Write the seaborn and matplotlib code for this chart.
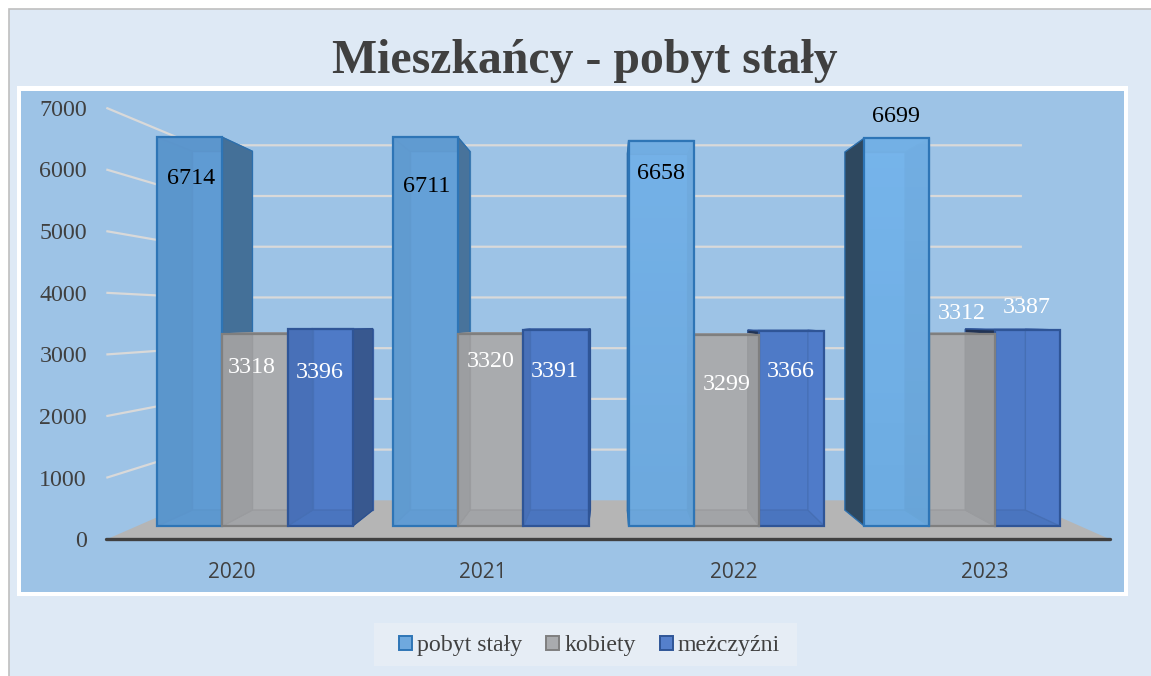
import numpy as np
import pandas as pd
import seaborn as sns
import matplotlib.pyplot as plt
from matplotlib.colors import LinearSegmentedColormap, to_rgb
from matplotlib.patches import Patch, Polygon, Rectangle

years = ['2020', '2021', '2022', '2023']
series = ['pobyt stały', 'kobiety', 'meżczyźni']
pobyt_staly = [6714, 6711, 6658, 6699]
kobiety = [3318, 3320, 3299, 3312]
mezczyzni = [3396, 3391, 3366, 3387]
y_ticks = [0, 1000, 2000, 3000, 4000, 5000, 6000, 7000]

W, H = 1151, 676
XV, YV = 1.515, 3575      # vanishing point, data units
S_NEAR, S_BACK, S_WALL = 1.065, 0.923, 0.876      # depth of the planes

face = ['#5F9BD3', '#A9ABAE', '#4E7AC7']
edge = ['#2E75B6', '#7F7F7F', '#2F5597']
inner_right = [0.84, 0.86, 1.02]
# top and bottom colour of the front of the pobyt stały bars
light_grad = [('#5F9BD3', '#5F9BD3'), ('#64A0D7', '#64A0D7'),
              ('#84C3FB', '#6DA9DE'), ('#88C6FD', '#6DACE2')]
# label offset from bar top, pixels
label_off = [[(1, -41), (1, -49), (0, -33), (-1, 22)],
             [(-3, -34), (0, -28), (0, -50), (0, 21)],
             [(0, -43), (-1, -42), (-1, -40), (-1, 22)]]
label_col = ['black', 'white', 'white']


def project(x, y, s):
    return XV + (x - XV) * s, YV + (y - YV) * s


def shade(c, f):
    return tuple(min(v * f, 1) for v in to_rgb(c))


sns.set_theme(style='white')
plt.rcParams['font.family'] = ['Liberation Serif', 'DejaVu Sans']

df = pd.DataFrame({
    'rok': years * 3,
    'seria': np.repeat(series, 4),
    'mieszkancy': pobyt_staly + kobiety + mezczyzni,
})

fig = plt.figure(figsize=(W / 100, H / 100), dpi=100, facecolor='white')
fig.add_artist(Rectangle((8.5 / W, -0.05), 1, 1.05 - 9.5 / H, transform=fig.transFigure,
                         fc='#DEE9F5', ec='#BFBFBF', lw=1.2))
fig.add_artist(Rectangle((17 / W, 1 - 596 / H), 1111 / W, 510 / H,
                         transform=fig.transFigure, fc='white', ec='none'))
fig.add_artist(Rectangle((374 / W, 1 - 666 / H), 423 / W, 43 / H,
                         transform=fig.transFigure, fc='#E6EDF5', ec='none'))
ax = fig.add_axes([21 / W, 1 - 592 / H, 1103 / W, 501 / H], facecolor='#9DC3E6')
ax.set_zorder(2)

sns.barplot(data=df, x='rok', y='mieszkancy', hue='seria', hue_order=series,
            palette=face, width=0.83, gap=0, saturation=1, legend=False, ax=ax)

# gridlines: near edge, side wall, back wall
for t in y_ticks[1:]:
    pts = [project(-0.5, t, S_NEAR), project(-0.5, t, S_WALL), project(3.5, t, S_WALL)]
    ax.plot(*zip(*pts), color='#D9D9D9', lw=1.6, zorder=1, solid_capstyle='butt')

floor = [project(-0.5, 0, S_NEAR), project(3.5, 0, S_NEAR),
         project(3.5, 0, S_WALL), project(-0.5, 0, S_WALL)]
ax.add_patch(Polygon(floor, fc='#B5B5B5', ec='none', zorder=1.5))
ax.plot(*zip(*floor[:2]), color='#404040', lw=2.4, zorder=1.6, solid_capstyle='round')

# boxes are drawn from the outside towards the vanishing point
bars = []
for h, cont in enumerate(ax.containers):
    for i, bar in enumerate(cont):
        bars.append((h, i, bar))
bars.sort(key=lambda b: -abs(b[2].get_x() + b[2].get_width() / 2 - XV))

for n, (h, i, bar) in enumerate(bars):
    z = 2 + n
    x0, x1, top = bar.get_x(), bar.get_x() + bar.get_width(), bar.get_height()
    c, ec = face[h], edge[h]
    if h == 0:
        c = light_grad[i][1]

    def quad(a, b, fc, line):
        # face between two front corners and their far copies
        pts = [a, b, project(*b, S_BACK), project(*a, S_BACK)]
        ax.add_patch(Polygon(pts, fc=fc, ec=line, lw=0.9, zorder=z))

    bl, br = project(x0, 0, S_BACK), project(x1, top, S_BACK)
    ax.add_patch(Rectangle(bl, br[0] - bl[0], br[1] - bl[1], fc=c, ec=shade(c, 0.88),
                           lw=0.9, zorder=z))
    outer_right = (x0 + x1) / 2 < XV
    soft = shade(c, 0.85)
    # top first, the dark outer side has to end up over its corner
    quad((x0, top), (x1, top), shade(c, 0.9), soft)
    quad((x0, 0), (x1, 0), shade(c, 0.94), soft)
    if outer_right:
        quad((x0, 0), (x0, top), shade(c, 0.88), soft)
        quad((x1, 0), (x1, top), shade(c, 0.72), shade(ec, 0.95))
    else:
        quad((x1, 0), (x1, top), shade(c, inner_right[h]), soft)
        quad((x0, 0), (x0, top), shade(c, 0.42), shade(ec, 0.95))

    # front, see-through so that the inner edges stay visible
    bar.set_zorder(z + 0.5)
    bar.set_facecolor((*to_rgb(c), 0.4))
    bar.set_edgecolor(ec)
    bar.set_linewidth(1.6)
    if h == 0:
        cmap = LinearSegmentedColormap.from_list('g', [light_grad[i][1], light_grad[i][0]])
        ax.imshow(np.linspace(0, 1, 64).reshape(-1, 1), cmap=cmap, origin='lower', alpha=0.6,
                  extent=(x0, x1, 0, top), aspect='auto', zorder=z + 0.4)

for h, cont in enumerate(ax.containers):
    for i, bar in enumerate(cont):
        ax.annotate(f'{bar.get_height():.0f}',
                    (bar.get_x() + bar.get_width() / 2, bar.get_height()),
                    xytext=label_off[h][i], textcoords='offset pixels',
                    ha='center', va='center', fontsize=17.3, color=label_col[h], zorder=50)

ax.set_xlim(-0.993, 3.687)
ax.set_ylim(-1140, 7513)
ax.set_xlabel('')
ax.set_ylabel('')
sns.despine(ax=ax, left=True, bottom=True)
ax.set_yticks([project(0, t, S_NEAR)[1] for t in y_ticks], labels=[str(t) for t in y_ticks])
ax.set_xticks([project(i, 0, S_NEAR)[0] for i in range(4)], labels=years)
ax.tick_params(axis='y', length=0, pad=-47.5, labelsize=17.3, labelcolor='#404040')
ax.tick_params(axis='x', length=0, pad=-21.5, labelsize=15, labelcolor='#404040')
for lab in ax.get_xticklabels():
    lab.set_fontfamily('Open Sans')

fig.text(585 / W, 1 - 61 / H, 'Mieszkańcy - pobyt stały', ha='center', va='center',
         fontsize=34.4, fontweight='bold', color='#404040')

handles = [Patch(fc=f, ec=e, lw=1.4, label=s) for f, e, s in
           zip(['#6FA9DE', '#A9ABAE', '#5580CC'], edge, series)]
fig.legend(handles=handles, loc='center', bbox_to_anchor=(589.5 / W, 1 - 646 / H),
           ncol=3, fontsize=17.2, frameon=False, labelcolor='#404040', handlelength=0.55,
           handleheight=0.55, handletextpad=0.2, columnspacing=1.0, borderpad=0, borderaxespad=0)

fig.savefig('out.png', dpi=100)
